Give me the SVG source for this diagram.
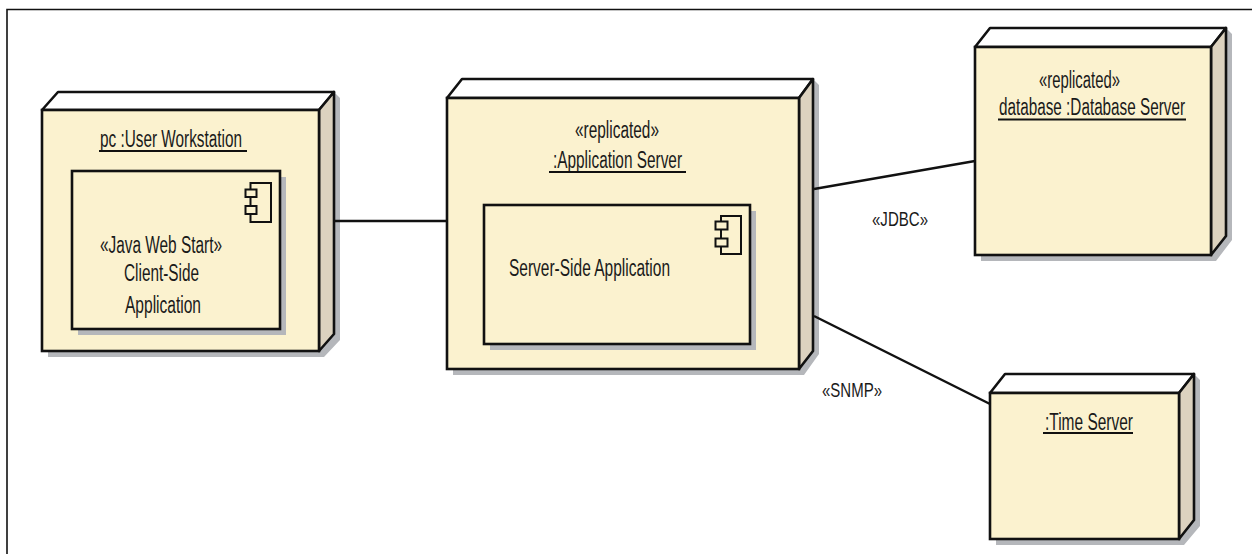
<svg xmlns="http://www.w3.org/2000/svg" width="1252" height="554" viewBox="0 0 1252 554">
<style>
.shadow{fill:#b5b7bb;stroke:none}
.front{fill:#fbf2cf;stroke:#111;stroke-width:2.6}
.top{fill:#fff;stroke:#111;stroke-width:2.6;stroke-linejoin:round}
.side{fill:#dcd2bf;stroke:#111;stroke-width:2.6;stroke-linejoin:round}
.icon{fill:#fbf2cf;stroke:#111;stroke-width:2}
.ul{stroke:#111;stroke-width:2;fill:none}
.conn{stroke:#111;stroke-width:2.4;fill:none}
text{font-family:"Liberation Sans",Arial,sans-serif;font-size:23px;fill:#1a1a1a}
</style>
<rect width="1252" height="554" fill="#fff"/>
<path d="M7 554V9.500H1252" fill="none" stroke="#111" stroke-width="1.600"/>
<g id="node-user-workstation">
<path class="shadow" d="M340 98V340L324 357H48V351H319V110L334 92Z"/>
<path class="top" d="M42 110L58 92H334L319 110Z"/>
<path class="side" d="M319 110L334 92V334L319 351Z"/>
<rect class="front" x="42" y="110" width="277" height="241"/>
<text x="100" y="147" textLength="142" lengthAdjust="spacingAndGlyphs">pc :User Workstation</text>
<line class="ul" x1="99" y1="151" x2="247" y2="151"/>
<rect class="shadow" x="78" y="177" width="208" height="158"/>
<rect class="front" x="72" y="171" width="208" height="158"/>
<rect class="icon" x="250.500" y="183" width="20.500" height="39"/>
<rect class="icon" x="245.500" y="189.500" width="11" height="7.500"/>
<rect class="icon" x="245.500" y="206" width="11" height="8"/>
<text x="100" y="253" textLength="122" lengthAdjust="spacingAndGlyphs">«Java Web Start»</text>
<text x="124" y="281" textLength="75" lengthAdjust="spacingAndGlyphs">Client-Side</text>
<text x="125" y="313" textLength="76" lengthAdjust="spacingAndGlyphs">Application</text>
</g>
<g id="node-application-server">
<path class="shadow" d="M819 85V354L804 375H453V369H799V98L813 79Z"/>
<path class="top" d="M447 98L462 79H813L799 98Z"/>
<path class="side" d="M799 98L813 79V351L799 369Z"/>
<rect class="front" x="447" y="98" width="352" height="271"/>
<text x="575" y="138" textLength="84" lengthAdjust="spacingAndGlyphs">«replicated»</text>
<text x="553" y="168" textLength="129" lengthAdjust="spacingAndGlyphs">:Application Server</text>
<line class="ul" x1="549" y1="172" x2="686" y2="172"/>
<rect class="shadow" x="490" y="211" width="266" height="139"/>
<rect class="front" x="484" y="205" width="266" height="139"/>
<rect class="icon" x="721" y="216" width="20" height="38"/>
<rect class="icon" x="715.500" y="221.500" width="12" height="8"/>
<rect class="icon" x="715.500" y="238.500" width="12" height="8"/>
<text x="509" y="276" textLength="161" lengthAdjust="spacingAndGlyphs">Server-Side Application</text>
</g>
<g id="node-database-server">
<path class="shadow" d="M1232 34V240L1216 261H981V255H1211V47L1226 28Z"/>
<path class="top" d="M975 47L990 28H1226L1211 47Z"/>
<path class="side" d="M1211 47L1226 28V236L1211 255Z"/>
<rect class="front" x="975" y="47" width="236" height="208"/>
<text x="1039" y="88" textLength="81" lengthAdjust="spacingAndGlyphs">«replicated»</text>
<text transform="translate(999 115) scale(1 1.150)" x="0" y="0" textLength="186" lengthAdjust="spacingAndGlyphs" style="font-size:20px">database :Database Server</text>
<line class="ul" x1="998" y1="119.500" x2="1186" y2="119.500"/>
</g>
<g id="node-time-server">
<path class="shadow" d="M1200 380V526L1184 545H996V539H1179V393L1194 374Z"/>
<path class="top" d="M990 393L1005 374H1194L1179 393Z"/>
<path class="side" d="M1179 393L1194 374V520L1179 539Z"/>
<rect class="front" x="990" y="393" width="189" height="146"/>
<text x="1045" y="430" textLength="88" lengthAdjust="spacingAndGlyphs">:Time Server</text>
<line class="ul" x1="1043" y1="433" x2="1133" y2="433"/>
</g>
<g id="connectors">
<line class="conn" x1="334" y1="221" x2="447" y2="221"/>
<line class="conn" x1="814" y1="189" x2="975" y2="161"/>
<line class="conn" x1="814" y1="316" x2="990" y2="404"/>
</g>
<g id="labels">
<text x="872" y="226" textLength="56" lengthAdjust="spacingAndGlyphs" style="font-size:21px">«JDBC»</text>
<text x="822" y="397" textLength="60" lengthAdjust="spacingAndGlyphs" style="font-size:21px">«SNMP»</text>
</g>
</svg>
